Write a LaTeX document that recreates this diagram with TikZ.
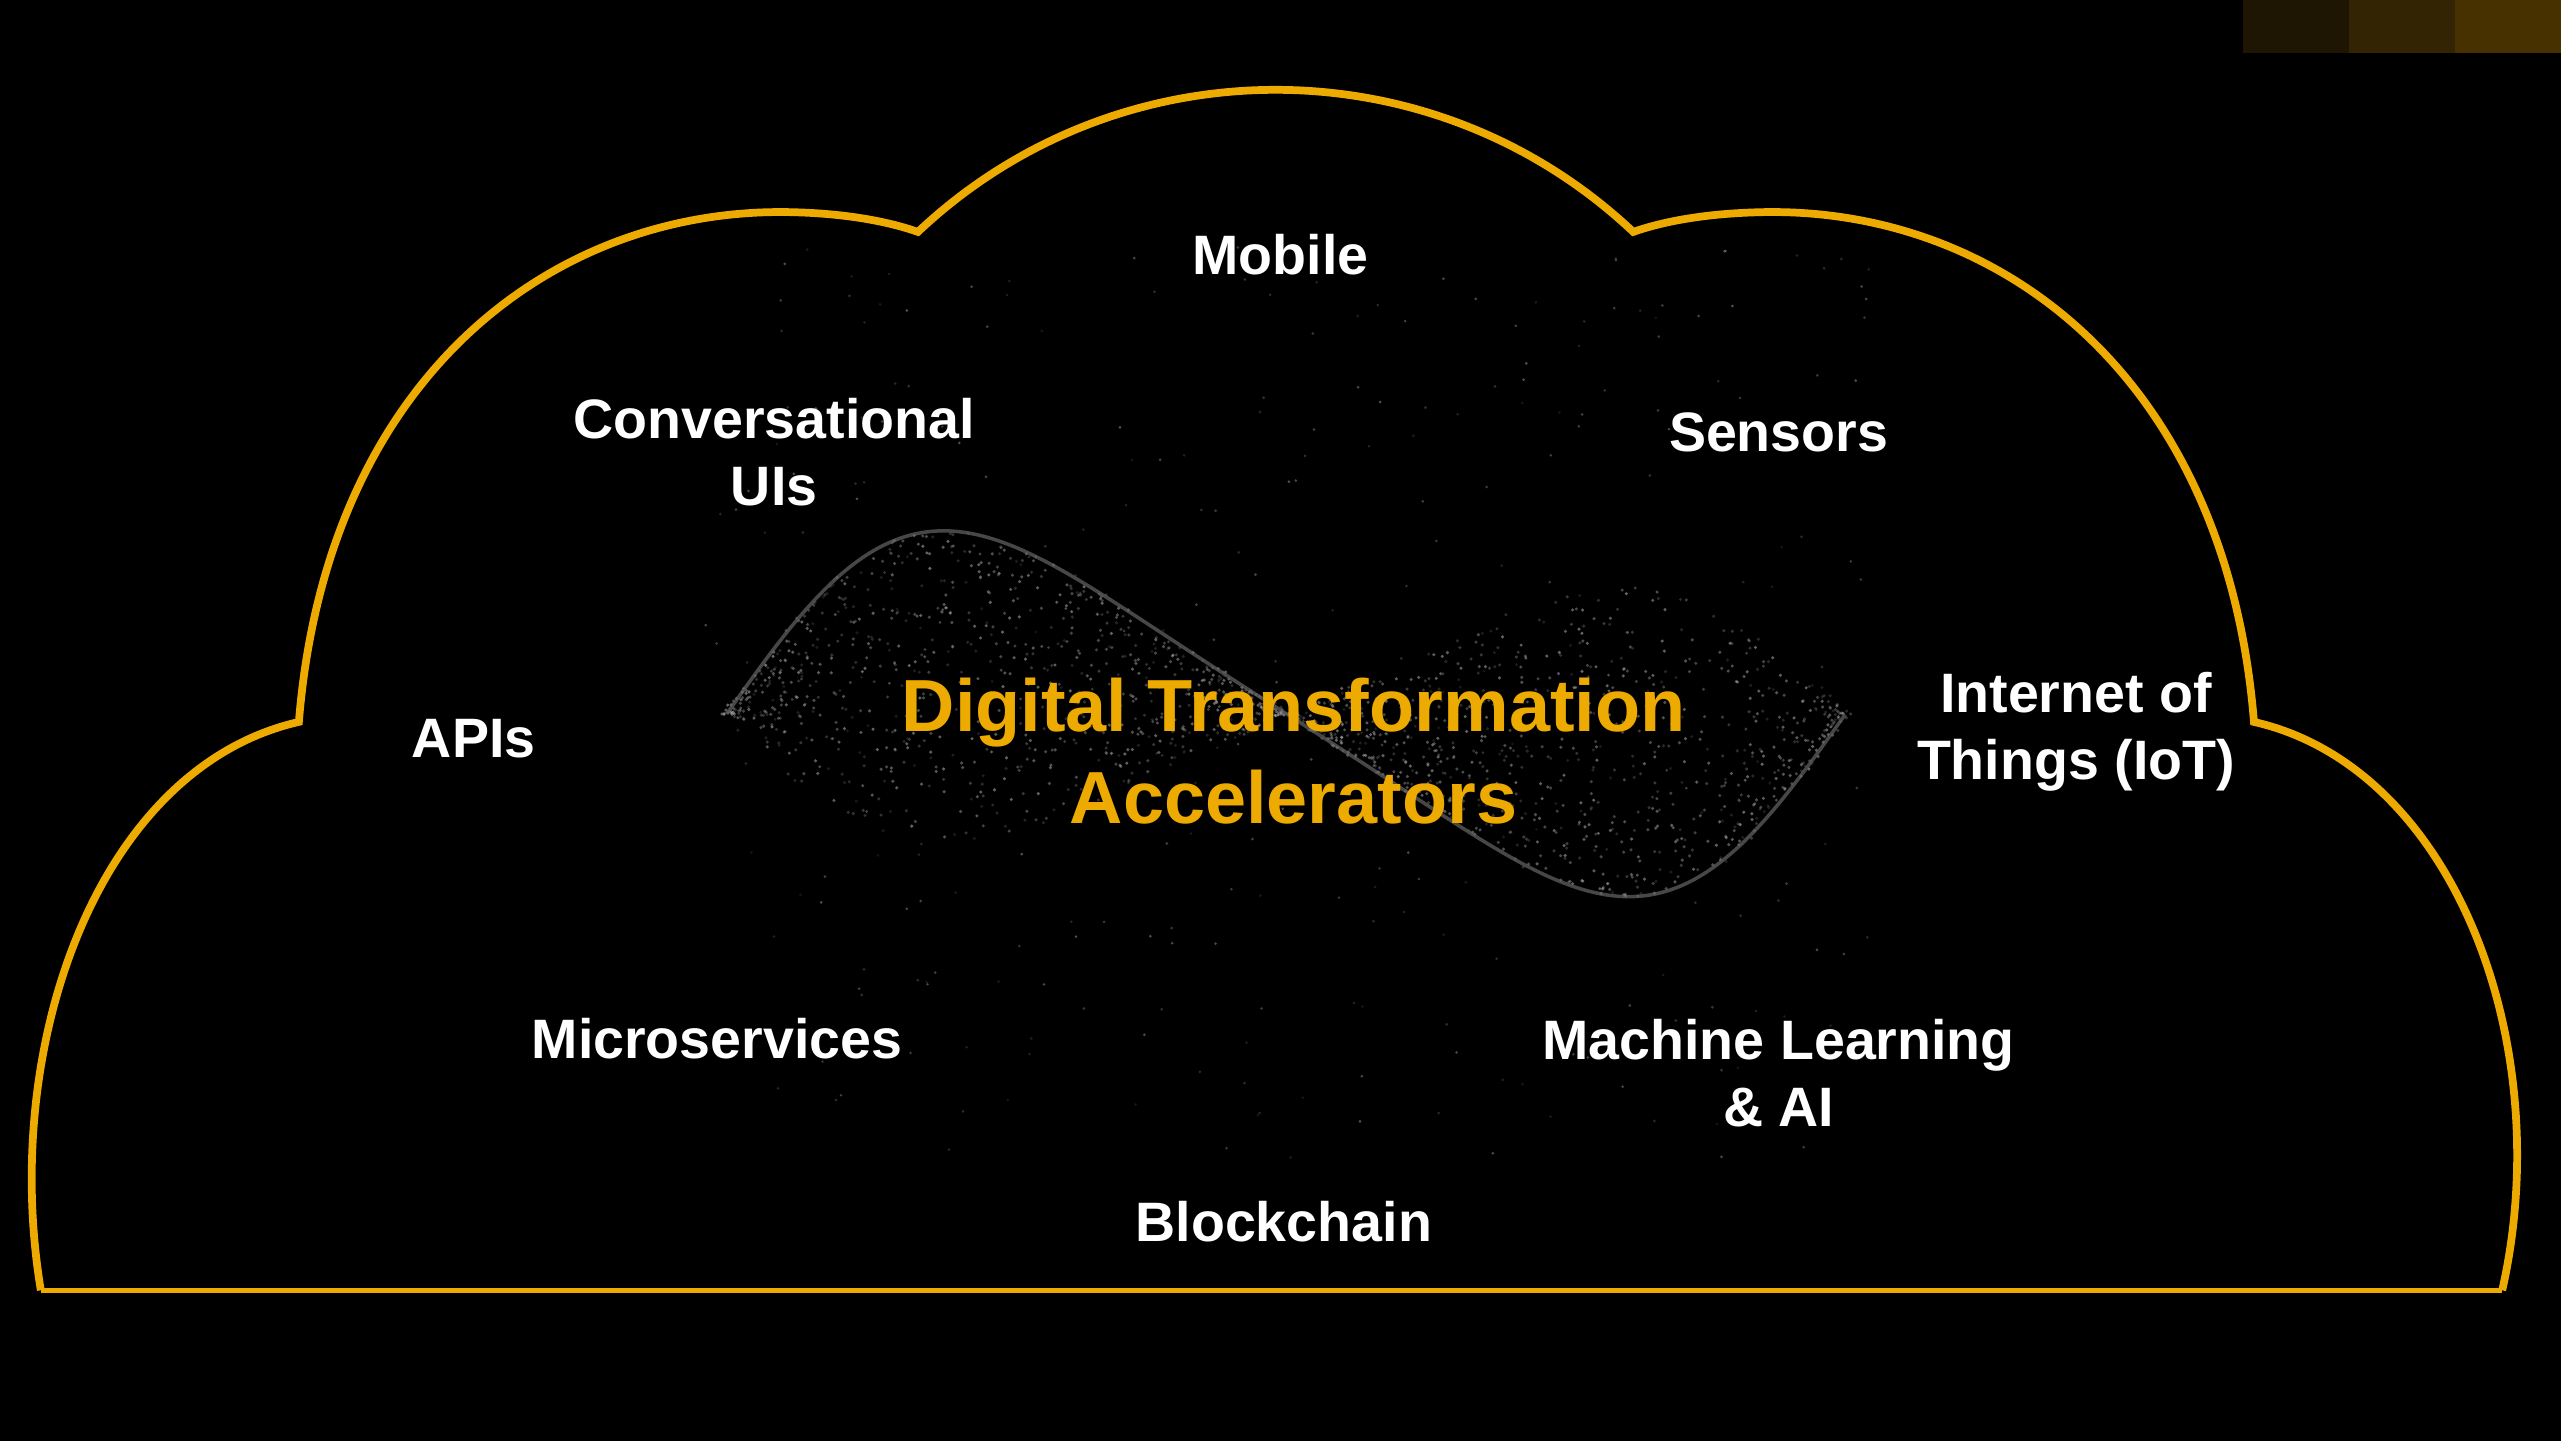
\documentclass[tikz,border=0pt]{standalone}
\usepackage{fontspec}
\setmainfont{Liberation Sans}
\definecolor{cloudgold}{RGB}{237,170,0}
\definecolor{sqone}{RGB}{30,22,2}
\definecolor{sqtwo}{RGB}{51,37,3}
\definecolor{sqthree}{RGB}{72,49,0}
\tikzset{
  cloudline/.style={draw=cloudgold,line width=2.2pt,line join=miter},
  cloudbase/.style={draw=cloudgold,line width=1.3pt},
  accel/.style={text=white,align=center,font=\fontsize{15.8}{19}\selectfont\bfseries},
  headline/.style={text=cloudgold,align=center,font=\fontsize{21}{26}\selectfont\bfseries},
  speck/.style={fill=white!80!black},
  waveedge/.style={draw=white!40!black,line width=1pt},
}
\begin{document}
\begin{tikzpicture}[x=0.016333cm,y=-0.016333cm]
  \fill[black] (0,0) rectangle (1568,882);
  \useasboundingbox (0,0) rectangle (1568,882);
  \fill[sqone] (1373,0) rectangle (1438,32.4);
  \fill[sqtwo] (1438,0) rectangle (1503,32.4);
  \fill[sqthree] (1503,0) rectangle (1568,32.4);

  % speckled wave behind the title
  \pgfmathsetseed{42}
  \foreach \i in {1,...,1900}{
    \pgfmathsetmacro\u{rnd}
    \pgfmathsetmacro\th{360*(\u+0.06*sin(360*\u))}
    \pgfmathsetmacro\r{1-1.7*rnd^1.4}
    \pgfmathsetmacro\px{445+685*\u+8*(rnd-0.5)}
    \pgfmathsetmacro\py{437-112*sin(\th)*\r}
    \pgfmathsetmacro\op{0.12+0.38*rnd}
    \fill[speck,opacity=\op] (\px,\py) circle[radius=1.05];
  }
  \foreach \i in {1,...,300}{
    \pgfmathsetmacro\px{430+720*rnd}
    \pgfmathsetmacro\py{150+560*rnd}
    \pgfmathsetmacro\op{0.1+0.3*rnd}
    \fill[speck,opacity=\op] (\px,\py) circle[radius=0.9];
  }
  \draw[waveedge,opacity=0.7] plot[domain=0:1,samples=90,smooth]
    ({445+685*\x},{437-112*sin(360*(\x+0.06*sin(360*\x)))});

  % cloud
  \draw[cloudline] (25,790) .. controls (0,640) and (60,470) .. (183,442)
    .. controls (200,230) and (340,125) .. (488,130)
    .. controls (520,131) and (545,136) .. (562,142)
    .. controls (685,26) and (877,26) .. (1000,142)
    .. controls (1017,136) and (1042,131) .. (1075,130)
    .. controls (1223,125) and (1363,230) .. (1380,442)
    .. controls (1503,470) and (1566,640) .. (1532,790);
  \draw[cloudbase] (25,790) -- (1532,790);

  \node[headline] (dta) at (792,460) {Digital Transformation\\Accelerators};
  \node[accel] (mobile) at (784,156) {Mobile};
  \node[accel] (convui) at (474,277) {Conversational\\UIs};
  \node[accel] (sensors) at (1089,265) {Sensors};
  \node[accel] (apis) at (290,452) {APIs};
  \node[accel] (iot) at (1271,448) {Internet of\\Things (IoT)};
  \node[accel] (micro) at (439,636) {Microservices};
  \node[accel] (mlai) at (1089,657) {Machine Learning\\\& AI};
  \node[accel] (chain) at (786,748) {Blockchain};
\end{tikzpicture}
\end{document}
